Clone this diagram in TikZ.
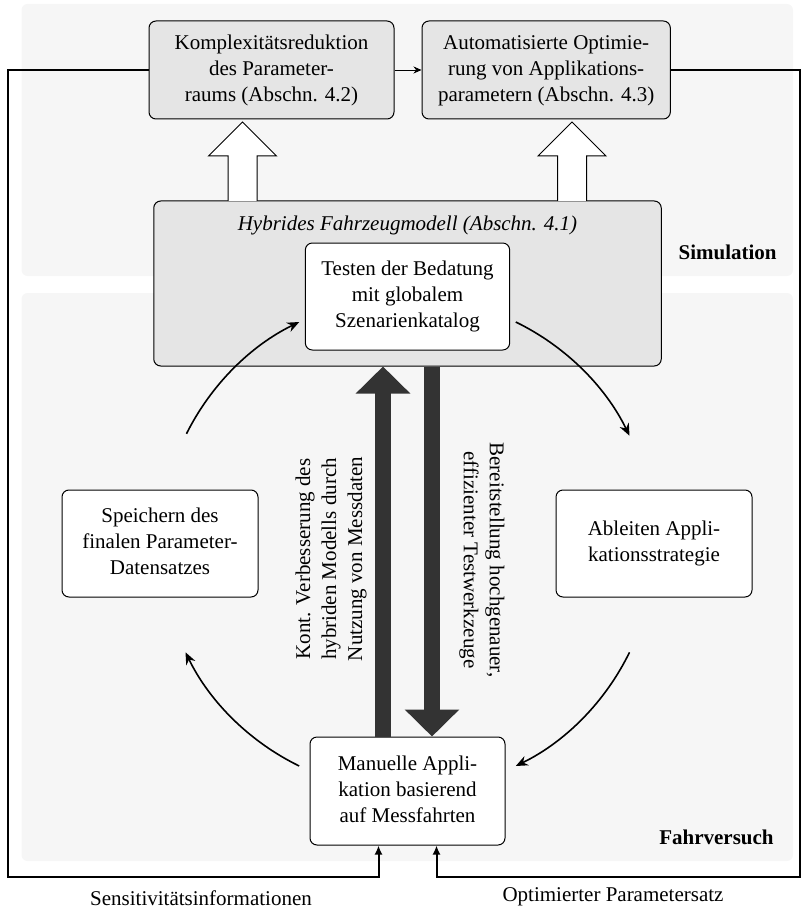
\documentclass[tikz,border=0pt]{standalone}
\usepackage{fontspec}
\setmainfont{Liberation Serif}
\usepackage{xcolor}
\usepackage{tikz}
\usetikzlibrary{arrows.meta}
\usetikzlibrary{positioning}
\definecolor{panelgray}{gray}{0.965}
\definecolor{boxgray}{gray}{0.90}
\definecolor{bargray}{gray}{0.2}
\newcommand{\figfont}{\fontsize{10.5}{13}\selectfont}
\tikzset{
    block/.style={
           rectangle,
           rounded corners=3.5pt,
           draw=black, line width=0.5pt,
           fill=white,
           inner sep=2pt,
           text centered,
           },
    grayblock/.style={
           block,
           fill=boxgray,
           },
    frameless/.style={
           inner sep=0pt,
           text centered,
           },
    link/.style={line width=1pt},
    hollow/.style={draw=black, line width=0.5pt, fill=white},
    bigarrow/.style={draw=bargray, line width=8pt,
           -{Triangle[length=13.5pt,width=26.5pt]}},
    circarrow/.style={line width=0.8pt, -{Stealth[length=6pt,width=5pt]}},
}
\begin{document}
\begin{tikzpicture}[x=0.5pt, y=-0.5pt, font=\figfont]
	\useasboundingbox (0,0) rectangle (802,909);
	% background panels
	\fill[panelgray, rounded corners=3pt] (21.5,4) rectangle (793,276);
	\fill[panelgray, rounded corners=3pt] (21.5,293) rectangle (793,861);

	\node[grayblock, minimum width=122.5pt, minimum height=49pt] (kompl) at (271.5,70) {
		\begin{tabular}{c}
		Komplexitätsreduktion\\
		des Parameter-\\
		raums (Abschn. 4.2)
		\end{tabular}
	};
	\node[grayblock, minimum width=122.5pt, minimum height=49pt, right=13.5pt of kompl] (optim) {
		\begin{tabular}{c}
		Automatisierte Optimie-\\
		rung von Applikations-\\
		parametern (Abschn. 4.3)
		\end{tabular}
	};
	\node[grayblock, minimum width=253.75pt, minimum height=82.5pt] (hybrid) at (407.5,283.5) {};
	\node[frameless] (hybridlabel) at (407.5,225) {\itshape Hybrides Fahrzeugmodell (Abschn. 4.1)};
	\node[block, minimum width=97.5pt, minimum height=53.5pt] (testen) at (407.5,296.5) {
		\begin{tabular}{c}
		Testen der Bedatung\\
		mit globalem\\
		Szenarienkatalog
		\end{tabular}
	};
	\node[block, minimum width=98pt, minimum height=53.5pt] (speichern) at (160,543.5) {
		\begin{tabular}{c}
		Speichern des\\
		finalen Parameter-\\
		Datensatzes
		\end{tabular}
	};
	\node[block, minimum width=98pt, minimum height=53.5pt] (ableiten) at (654,543.5) {
		\begin{tabular}{c}
		Ableiten Appli-\\
		kationsstrategie
		\end{tabular}
	};
	\node[block, minimum width=97.5pt, minimum height=54pt] (manuell) at (407.5,791) {
		\begin{tabular}{c}
		Manuelle Appli-\\
		kation basierend\\
		auf Messfahrten
		\end{tabular}
	};

	\node[frameless, anchor=east, font=\figfont\bfseries] (sim) at (777,252) {Simulation};
	\node[frameless, anchor=east, font=\figfont\bfseries] (fahr) at (774,837) {Fahrversuch};

	% hollow arrows up to the top row
	\foreach \ax in {242.5,572}
		\draw[hollow] ({\ax-14.5},201) -- ({\ax-14.5},156) -- ({\ax-34},156) -- (\ax,122)
			-- ({\ax+34},156) -- ({\ax+14.5},156) -- ({\ax+14.5},201);

	% thick arrows between simulation and driving test
	\draw[bigarrow] ([xshift=-12.25pt]manuell.north) -- ([xshift=-12.25pt]hybrid.south);
	\draw[bigarrow] ([xshift=12.25pt]hybrid.south) -- ([xshift=12.25pt]manuell.north);
	\node[frameless, rotate=90] (improve) at (331,559) {
		\begin{tabular}{c}
		Kont. Verbesserung des\\
		hybriden Modells durch\\
		Nutzung von Messdaten
		\end{tabular}
	};
	\node[frameless, rotate=-90] (provide) at (482,560) {
		\begin{tabular}{c}
		Bereitstellung hochgenauer,\\
		effizienter Testwerkzeuge
		\end{tabular}
	};

	% cycle
	\coordinate (hub) at (407.5,544);
	\foreach \a/\b in {153.5/116, 64/26, 244/206, 334/296}
		\draw[circarrow] ([shift={(\a:123.5pt)}]hub) arc[start angle=\a, end angle=\b, radius=123.5pt];

	% feedback loops
	\coordinate (lcorner) at (8,877);
	\coordinate (rcorner) at (799.5,877);
	\path[-{Stealth[length=4pt,width=3.5pt]}, line width=0.4pt] (kompl) edge (optim);
	\draw[link, -{Latex[length=4.5pt,width=4pt]}] (kompl.west) -| (lcorner) -| ([xshift=-14.5pt]manuell.south);
	\draw[link, -{Latex[length=4.5pt,width=4pt]}] (optim.east) -| (rcorner) -| ([xshift=14.5pt]manuell.south);
	\node[frameless] (sens) at (201,898) {Sensitivitätsinformationen};
	\node[frameless] (opt) at (613,897) {Optimierter Parametersatz};
\end{tikzpicture}
\end{document}
